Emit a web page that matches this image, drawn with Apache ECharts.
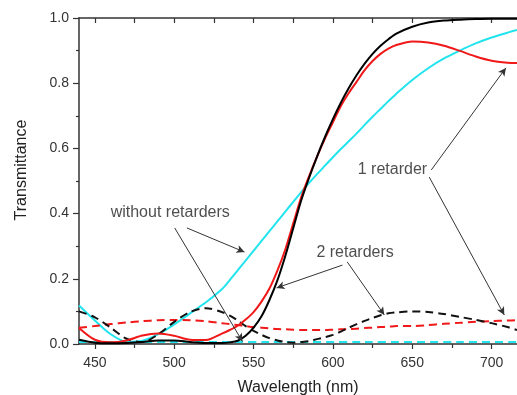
<!DOCTYPE html>
<html>
<head>
<meta charset="utf-8">
<script src="https://cdn.jsdelivr.net/npm/echarts@6/dist/echarts.min.js"></script>
<style>
  html, body { margin: 0; padding: 0; background: #fff; }
  #chart { width: 517px; height: 395px; }
</style>
</head>
<body>
<div id="chart"></div>
<script>
// wavelength samples (nm), finer through the rising edge
const wavelengths = [440, 450, 460, 470, 480, 490, 500, 510, 520, 530, 535, 540, 545, 550, 555,
  560, 565, 570, 575, 580, 585, 590, 595, 600, 605, 610, 615, 620, 625, 630, 635, 640,
  650, 660, 670, 680, 690, 700, 710, 716];

// 2 retarders
const twoRetSolid = [0.013, 0.004, 0.002, 0.003, 0.006, 0.011, 0.011, 0.006, 0.003, 0.003, 0.005, 0.010, 0.025, 0.050, 0.085,
  0.135, 0.195, 0.27, 0.355, 0.44, 0.51, 0.575, 0.635, 0.69, 0.74, 0.785, 0.825, 0.86, 0.89, 0.915, 0.935, 0.952,
  0.973, 0.986, 0.992, 0.995, 0.997, 0.998, 0.998, 0.998];
const twoRetDashed = [0.10, 0.082, 0.05, 0.016, 0.006, 0.03, 0.068, 0.098, 0.11, 0.098, 0.087, 0.072, 0.055, 0.04, 0.028,
  0.018, 0.011, 0.006, 0.004, 0.006, 0.009, 0.015, 0.021, 0.028, 0.038, 0.05, 0.061, 0.071, 0.08, 0.088, 0.094, 0.097,
  0.10, 0.098, 0.092, 0.083, 0.074, 0.064, 0.052, 0.043];

// 1 retarder
const oneRetSolid = [0.049, 0.013, 0.005, 0.011, 0.026, 0.032, 0.025, 0.013, 0.012, 0.032, 0.043, 0.056, 0.075, 0.098, 0.13,
  0.17, 0.225, 0.29, 0.37, 0.45, 0.515, 0.575, 0.63, 0.68, 0.73, 0.77, 0.805, 0.84, 0.868, 0.89, 0.906, 0.917,
  0.928, 0.925, 0.915, 0.899, 0.882, 0.869, 0.863, 0.862];
const oneRetDashed = [0.05, 0.055, 0.061, 0.066, 0.07, 0.073, 0.074, 0.073, 0.07, 0.064, 0.061, 0.058, 0.055, 0.052, 0.05,
  0.048, 0.046, 0.045, 0.044, 0.043, 0.043, 0.043, 0.043, 0.044, 0.045, 0.046, 0.047, 0.049, 0.05, 0.052, 0.053, 0.055,
  0.055, 0.058, 0.062, 0.065, 0.068, 0.07, 0.072, 0.073];

// without retarders
const noRetSolid = [0.118, 0.072, 0.03, 0.007, 0.01, 0.03, 0.06, 0.094, 0.128, 0.168, 0.196, 0.226, 0.256, 0.286, 0.316,
  0.346, 0.376, 0.406, 0.436, 0.466, 0.494, 0.521, 0.547, 0.573, 0.598, 0.622, 0.646, 0.672, 0.697, 0.721, 0.745, 0.768,
  0.81, 0.846, 0.876, 0.9, 0.922, 0.94, 0.955, 0.963];
const noRetDashedWl = [440, 500, 560, 620, 680, 716];
const noRetDashed = [0.006, 0.006, 0.006, 0.006, 0.006, 0.006];

const xMajor = [450, 500, 550, 600, 650, 700];
const xMinor = [475, 525, 575, 625, 675];
const xTop = [450, 475, 500, 525, 550, 575, 600, 625, 650, 675, 700];

// annotation text, in data coordinates
const notes = [
  {name: 'without retarders', value: [497.5, 0.402]},
  {name: '2 retarders', value: [614, 0.279]},
  {name: '1 retarder', value: [637.5, 0.534]}
];
const arrows = [
  [[508, 0.356], [544.3, 0.282]],
  [[500.3, 0.356], [543, 0.008]],
  [[606, 0.242], [564.5, 0.172]],
  [[609, 0.252], [632.4, 0.089]],
  [[662, 0.534], [709, 0.847]],
  [[660.7, 0.512], [708, 0.089]]
];

const pairs = (xs, ys) => xs.map((x, i) => [x, ys[i]]);

const font = 'Liberation Sans, Arial, sans-serif';
const axisColor = '#333';

function line(name, xs, ys, color, dashed) {
  return {
    name: name,
    type: 'line',
    data: pairs(xs, ys),
    smooth: 0.3,
    showSymbol: false,
    lineStyle: {
      color: color,
      width: 2,
      type: dashed ? [8, 5] : 'solid'
    },
    z: 3
  };
}

const myChart = echarts.init(document.getElementById('chart'));
myChart.setOption({
  animation: false,
  textStyle: {fontFamily: font},
  grid: {left: 79, right: 0, top: 18, bottom: 51, outerBoundsMode: 'none', containLabel: false},
  xAxis: [
    {
      type: 'value',
      position: 'bottom',
      min: 440,
      max: 716,
      name: 'Wavelength (nm)',
      nameLocation: 'middle',
      nameGap: 36,
      nameTextStyle: {fontSize: 16, color: '#222', fontFamily: font},
      axisLine: {show: true, lineStyle: {color: axisColor, width: 1.5}},
      axisTick: {show: true, customValues: xMajor, length: 5, lineStyle: {color: axisColor, width: 1.2}},
      axisLabel: {customValues: xMajor, fontSize: 14, color: '#333', margin: 12, fontFamily: font},
      splitLine: {show: false}
    },
    {
      type: 'value',
      position: 'bottom',
      min: 440,
      max: 716,
      axisLine: {show: false},
      axisTick: {show: true, customValues: xMinor, length: 4, lineStyle: {color: axisColor, width: 1.2}},
      axisLabel: {show: false},
      splitLine: {show: false}
    },
    {
      type: 'value',
      position: 'top',
      min: 440,
      max: 716,
      axisLine: {show: true, lineStyle: {color: axisColor, width: 1.5}},
      axisTick: {show: true, inside: true, customValues: xTop, length: 5, lineStyle: {color: axisColor, width: 1.2}},
      axisLabel: {show: false},
      splitLine: {show: false}
    }
  ],
  yAxis: {
    type: 'value',
    min: 0,
    max: 1,
    interval: 0.2,
    name: 'Transmittance',
    nameLocation: 'middle',
    nameGap: 49,
    nameTextStyle: {fontSize: 16, color: '#222', fontFamily: font, padding: [0, 0, 0, 22]},
    axisLine: {show: true, lineStyle: {color: axisColor, width: 1.5}},
    axisTick: {show: true, length: 6, lineStyle: {color: axisColor, width: 1.2}},
    minorTick: {show: true, splitNumber: 2, length: 3, lineStyle: {color: axisColor, width: 1.2}},
    axisLabel: {
      fontSize: 14,
      color: '#333',
      margin: 10,
      fontFamily: font,
      formatter: (v) => v.toFixed(1)
    },
    splitLine: {show: false}
  },
  series: [
    line('without retarders (dashed)', noRetDashedWl, noRetDashed, '#22e4ee', true),
    line('without retarders', wavelengths, noRetSolid, '#22e4ee', false),
    line('1 retarder (dashed)', wavelengths, oneRetDashed, '#f01818', true),
    line('2 retarders (dashed)', wavelengths, twoRetDashed, '#111', true),
    line('1 retarder', wavelengths, oneRetSolid, '#f01818', false),
    line('2 retarders', wavelengths, twoRetSolid, '#000', false),
    {
      name: 'arrows',
      type: 'line',
      data: [],
      markLine: {
        silent: true,
        symbol: ['none', 'arrow'],
        symbolSize: [6, 8],
        label: {show: false},
        lineStyle: {color: '#333', width: 1, type: 'solid'},
        data: arrows.map(a => [{coord: a[0]}, {coord: a[1]}])
      },
      z: 4
    },
    {
      name: 'notes',
      type: 'scatter',
      data: notes,
      symbolSize: 0,
      label: {
        show: true,
        position: 'inside',
        formatter: '{b}',
        fontSize: 16,
        color: '#222',
        fontFamily: font
      },
      z: 5
    }
  ]
});
</script>
</body>
</html>
